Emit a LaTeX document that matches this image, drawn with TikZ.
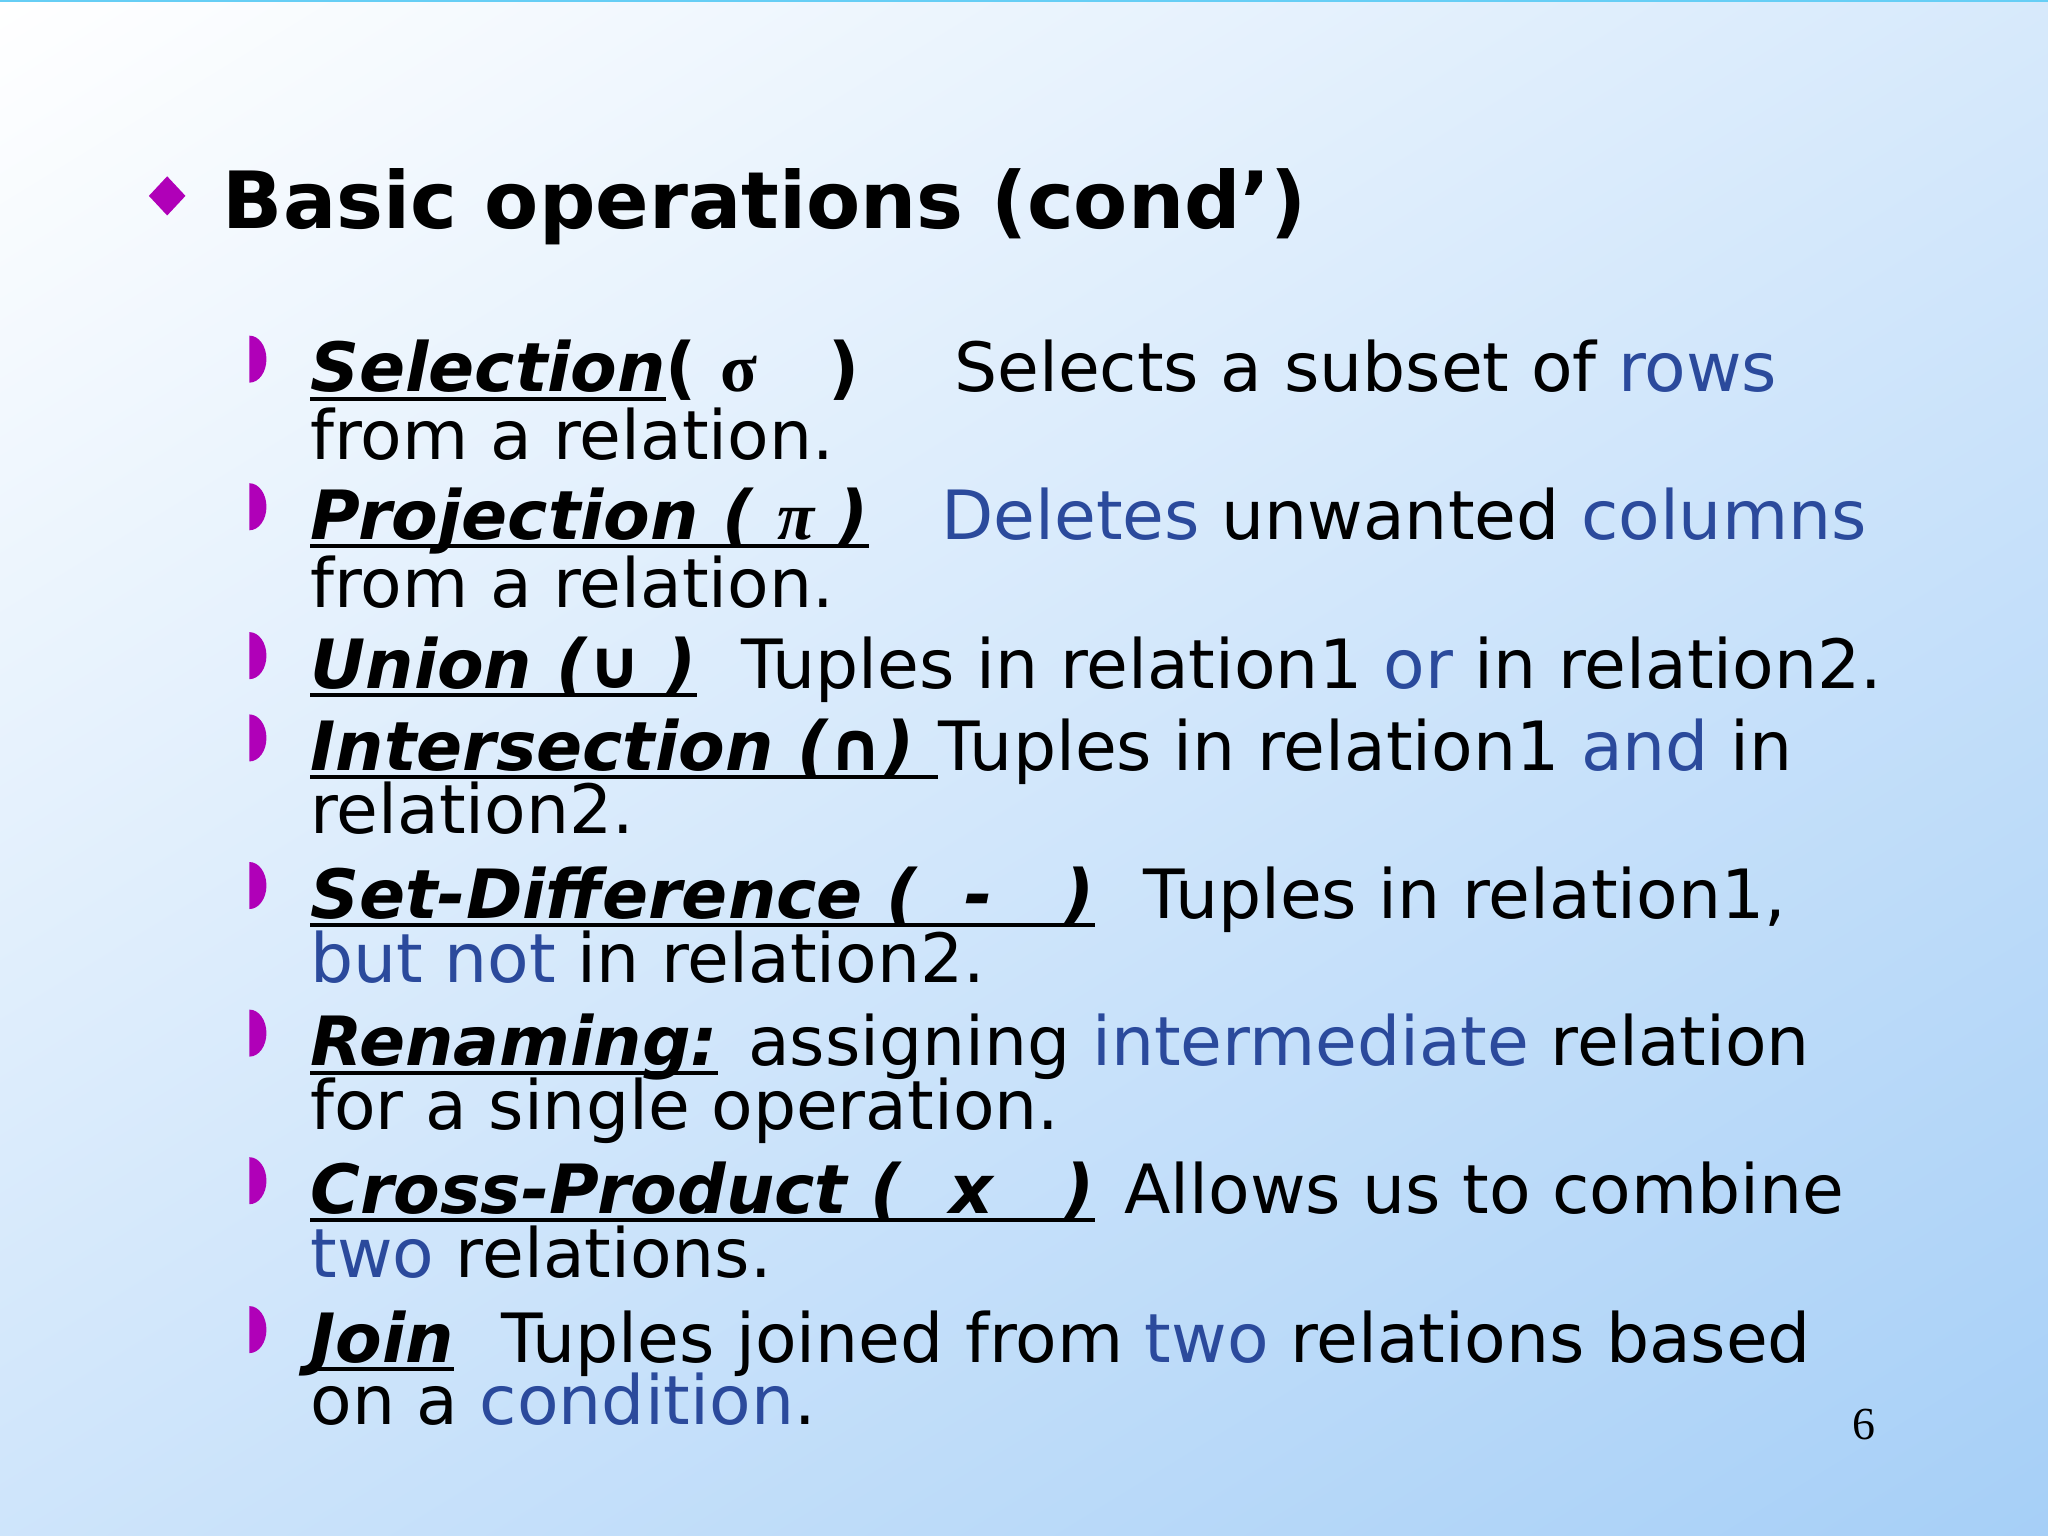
\documentclass[tikz,border=0pt]{standalone}
\usepackage{fontspec}
\usetikzlibrary{shadings}
\setmainfont{DejaVu Sans}
\newfontfamily\serifgr{Liberation Serif}
\definecolor{kw}{HTML}{2B4A9C}
\definecolor{mag}{HTML}{B000B8}
\definecolor{bgblue}{HTML}{A6CFF7}
\newcommand{\hd}[1]{\setbox0\hbox{\textbf{\textit{#1}}}\rlap{\rule[-0.13em]{\wd0}{0.06em}}\box0}
\tikzset{
 txt/.style={anchor=base west,inner sep=0pt,font=\fontsize{14.8}{15}\selectfont},
 bul/.style={fill=mag,draw=none}
}
\begin{document}
\begin{tikzpicture}[x=1cm,y=1cm]
\useasboundingbox (0,0) rectangle (15.68,11.76);
\shade[upper left=white,upper right=bgblue!45,lower left=bgblue!55,lower right=bgblue] (0,0) rectangle (15.68,11.76);
\fill[cyan!60] (0,11.745) rectangle (15.68,11.76);
% title bullet
\fill[bul] (1.28,10.41) -- (1.42,10.26) -- (1.28,10.11) -- (1.14,10.26) -- cycle;
\node[anchor=base west,inner sep=0pt,font=\fontsize{17.2}{18}\selectfont\bfseries] (title) at (1.70,10.01) {Basic operations (cond’)};
% sub bullets
\foreach \yy in {8.76,7.63,6.49,5.86,4.73,3.60,2.47,1.33}{
  \fill[bul] (1.91,\yy+0.07) arc[start angle=-90,end angle=90,x radius=0.13,y radius=0.18] -- cycle;
}
% items
\node[txt] (h1) at (2.37,8.76) {\hd{Selection} \textbf{( {\serifgr σ} \ \ )}};
\node[txt] (d1) at (7.30,8.76) {Selects a subset of \textcolor{kw}{rows}};
\node[txt] (e1) at (2.37,8.24) {from a relation.};
\node[txt] (h2) at (2.37,7.63) {\hd{Projection ( {\serifgr\itshape π} )}};
\node[txt] (d2) at (7.20,7.63) {\textcolor{kw}{Deletes} unwanted \textcolor{kw}{columns}};
\node[txt] (e2) at (2.37,7.11) {from a relation.};
\node[txt] (h3) at (2.37,6.49) {\hd{Union (∪ )}};
\node[txt] (d3) at (5.67,6.49) {Tuples in relation1 \textcolor{kw}{or} in relation2.};
\node[txt] (h4) at (2.37,5.86) {\hd{Intersection (∩)\ }};
\node[txt] (d4) at (7.18,5.86) {Tuples in relation1 \textcolor{kw}{and} in};
\node[txt] (e4) at (2.37,5.38) {relation2.};
\node[txt] (h5) at (2.37,4.73) {\hd{Set-Difference ( \ - \ \ )}};
\node[txt] (d5) at (8.75,4.73) {Tuples in relation1,};
\node[txt] (e5) at (2.37,4.24) {\textcolor{kw}{but not} in relation2.};
\node[txt] (h6) at (2.37,3.60) {\hd{Renaming:}};
\node[txt] (d6) at (5.72,3.60) {assigning \textcolor{kw}{intermediate} relation};
\node[txt] (e6) at (2.37,3.11) {for a single operation.};
\node[txt] (h7) at (2.37,2.47) {\hd{Cross-Product ( \ x \ \ )}};
\node[txt] (d7) at (8.60,2.47) {Allows us to combine};
\node[txt] (e7) at (2.37,1.98) {\textcolor{kw}{two} relations.};
\node[txt] (h8) at (2.37,1.33) {\hd{Join}};
\node[txt] (d8) at (3.83,1.33) {Tuples joined from \textcolor{kw}{two} relations based};
\node[txt] (e8) at (2.37,0.85) {on a \textcolor{kw}{condition}.};
\node[anchor=base,inner sep=0pt,font=\serifgr\fontsize{10}{10}\selectfont] (pg) at (14.27,0.74) {6};
\end{tikzpicture}
\end{document}
